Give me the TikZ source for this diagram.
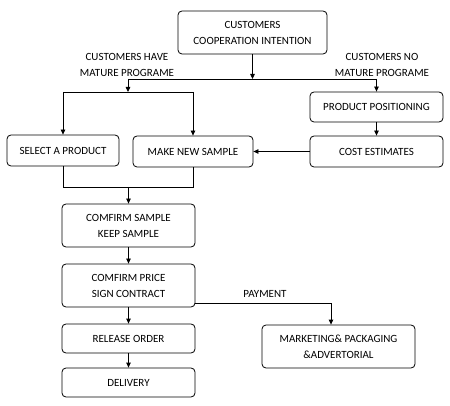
\documentclass[tikz,border=0pt]{standalone}
\usepackage{fontspec}
\setmainfont{Carlito}
\usetikzlibrary{arrows.meta}
\begin{document}
\begin{tikzpicture}[x=1pt,y=-1pt,
  box/.style={draw, rounded corners=4pt, line width=0.8pt, align=center, inner sep=0pt, font=\fontsize{11}{16}\selectfont},
  lbl/.style={align=center, inner sep=0pt, font=\fontsize{11}{16}\selectfont},
  ln/.style={line width=0.8pt},
  arr/.style={line width=0.8pt, -{Triangle[length=5pt,width=4.5pt]}}]
\useasboundingbox (0,0) rectangle (450,406);
\node[box, minimum width=149pt, minimum height=43pt] (top) at (252.5,32.5) {CUSTOMERS\\COOPERATION INTENTION};
\node[box, minimum width=133pt, minimum height=30pt] (pp) at (376.5,107) {PRODUCT POSITIONING};
\node[box, minimum width=112pt, minimum height=31pt] (sel) at (63,150.5) {SELECT A PRODUCT};
\node[box, minimum width=120pt, minimum height=31pt] (mns) at (193,151.5) {MAKE NEW SAMPLE};
\node[box, minimum width=133pt, minimum height=31pt] (cost) at (376.5,151.5) {COST ESTIMATES};
\node[box, minimum width=133pt, minimum height=43pt] (cs) at (128.5,225.5) {COMFIRM SAMPLE\\KEEP SAMPLE};
\node[box, minimum width=133pt, minimum height=43pt] (cp) at (128.5,285.5) {COMFIRM PRICE\\SIGN CONTRACT};
\node[box, minimum width=133pt, minimum height=29pt] (ro) at (128.5,338.5) {RELEASE ORDER};
\node[box, minimum width=133pt, minimum height=29pt] (del) at (128.5,382.5) {DELIVERY};
\node[box, minimum width=153pt, minimum height=43pt] (mk) at (338.5,346.5) {MARKETING\&{} PACKAGING\\\&ADVERTORIAL};
\node[lbl] (l1) at (127,64.5) {CUSTOMERS HAVE\\MATURE PROGRAME};
\node[lbl] (l2) at (382,64.5) {CUSTOMERS NO\\MATURE PROGRAME};
\node[lbl] (l3) at (265,294) {PAYMENT};
\coordinate (j1) at (252.5,79);
\coordinate (jl) at (128,79);
\coordinate (jr) at (376.5,79);
\coordinate (j2) at (128,92);
\coordinate (j2l) at (63,92);
\coordinate (j2r) at (193,92);
\coordinate (j3l) at (63,187);
\coordinate (j3r) at (193,187);
\coordinate (j3) at (128.5,187);
\coordinate (pm) at (331,303);
\draw[arr] (top.south) -- (j1);
\draw[ln] (jl) -- (jr);
\draw[arr] (jl) -- (j2);
\draw[arr] (jr) -- (pp.north);
\draw[ln] (j2l) -- (j2r);
\draw[arr] (j2l) -- (sel.north);
\draw[arr] (j2r) -- (mns.north);
\draw[arr] (pp.south) -- (cost.north);
\draw[arr] (cost.west) -- (mns.east);
\draw[ln] (sel.south) -- (j3l) -- (j3r) -- (mns.south);
\draw[arr] (j3) -- (cs.north);
\draw[arr] (cs.south) -- (cp.north);
\draw[arr] (cp.south) -- (ro.north);
\draw[arr] (ro.south) -- (del.north);
\draw[arr] (cp.east |- pm) -- (pm) -- (mk.north -| pm);
\end{tikzpicture}
\end{document}
